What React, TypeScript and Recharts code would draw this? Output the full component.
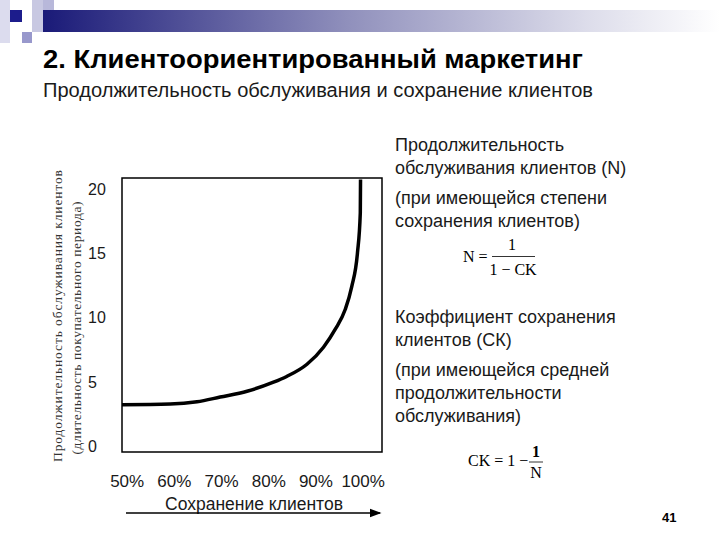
import React from "react";
import { LineChart, Line, XAxis, YAxis, ReferenceArea } from "recharts";

// retention rate (%) and matching service duration (periods)
const retention = [48.9, 59.1, 64.8, 69.7, 75.4, 81.0, 83.8, 88.1, 91.6, 94.1, 96.2, 97.6, 98.8, 99.4, 99.45];
const duration = [3.2, 3.25, 3.43, 3.8, 4.25, 4.95, 5.4, 6.35, 7.67, 9.07, 10.6, 12.4, 15.0, 18.1, 20.7];
const xTicks = [50, 60, 70, 80, 90, 100];
const yTicks = [0, 5, 10, 15, 20];
const X_MIN = 48.9;
const X_MAX = 104.0;
const Y_MIN = -0.47;
const Y_MAX = 20.82;

const rightLines1 = ["Продолжительность", "обслуживания клиентов (N)"];
const rightLines2 = ["(при имеющейся степени", "сохранения клиентов)"];
const rightLines3 = ["Коэффициент сохранения", "клиентов (СК)"];
const rightLines4 = ["(при имеющейся средней", "продолжительности", "обслуживания)"];

const sans = "'Liberation Sans', Arial, sans-serif";
const serif = "'Liberation Serif', 'Times New Roman', serif";

const data = retention.map((x, i) => ({ x, y: duration[i] }));

function XTick(props: any) {
  const { x, y, payload } = props;
  return (
    <text x={x} y={y + 27} textAnchor="middle" fontFamily={sans} fontSize={17} fill="#1a1a1a">
      {payload.value}%
    </text>
  );
}

function YTick(props: any) {
  const { y, payload } = props;
  return (
    <text x={88} y={y + 6} textAnchor="start" fontFamily={sans} fontSize={16} fill="#1a1a1a">
      {payload.value}
    </text>
  );
}

function Lines({ lines, x, y }: { lines: string[]; x: number; y: number }) {
  return (
    <>
      {lines.map((t, i) => (
        <text key={i} x={x} y={y + i * 23} fontFamily={sans} fontSize={18} fill="#1a1a1a">
          {t}
        </text>
      ))}
    </>
  );
}

export default function App() {
  return (
    <div style={{ position: "absolute", left: 0, top: 0, width: 720, height: 540, background: "#fff" }}>
      <svg width={720} height={540} style={{ position: "absolute", left: 0, top: 0 }}>
        <defs>
          <linearGradient id="bar" x1="0" x2="1" y1="0" y2="0">
            <stop offset="0" stopColor="#1a1a78" />
            <stop offset="0.45" stopColor="#9090bc" />
            <stop offset="0.8" stopColor="#dcdcea" />
            <stop offset="1" stopColor="#ffffff" />
          </linearGradient>
          <marker id="arrow" markerWidth="8" markerHeight="8" refX="7" refY="4" orient="auto">
            <path d="M0,1 L8,4 L0,7 z" fill="#000" />
          </marker>
        </defs>
        <rect x={0} y={0} width={10} height={43} fill="#dcdcee" />
        <rect x={32} y={0} width={11} height={32} fill="#c8c8e2" />
        <rect x={43} y={0} width={11} height={10} fill="#b8b8da" />
        <rect x={10} y={10} width={12} height={12} fill="#1c1c8c" />
        <rect x={22} y={32} width={10} height={11} fill="#9898cc" />
        <rect x={43} y={10} width={677} height={22} fill="url(#bar)" />

        <text x={43} y={68} fontFamily={sans} fontSize={26.5} fontWeight="bold" fill="#000"
          textLength={540} lengthAdjust="spacingAndGlyphs">
          2. Клиентоориентированный маркетинг
        </text>
        <text x={43} y={97} fontFamily={sans} fontSize={20} fill="#1a1a1a"
          textLength={550} lengthAdjust="spacingAndGlyphs">
          Продолжительность обслуживания и сохранение клиентов
        </text>

        <g transform="translate(62,316) rotate(-90)">
          <text x={0} y={0} textAnchor="middle" fontFamily={serif} fontSize={13.5} fill="#333"
            textLength={292} lengthAdjust="spacing">
            Продолжительность обслуживания клиентов
          </text>
        </g>
        <g transform="translate(81,328) rotate(-90)">
          <text x={0} y={0} textAnchor="middle" fontFamily={serif} fontSize={13.5} fill="#333"
            textLength={253} lengthAdjust="spacing">
            (длительность покупательного периода)
          </text>
        </g>

        <text x={254} y={510} textAnchor="middle" fontFamily={sans} fontSize={17.5} fill="#1a1a1a">
          Сохранение клиентов
        </text>
        <line x1={126} y1={513} x2={380} y2={513} stroke="#000" strokeWidth={1.5} markerEnd="url(#arrow)" />

        <Lines lines={rightLines1} x={395} y={151} />
        <Lines lines={rightLines2} x={395} y={204} />
        <Lines lines={rightLines3} x={395} y={323} />
        <Lines lines={rightLines4} x={395} y={376} />

        <text x={463} y={262} fontFamily={serif} fontSize={16} fill="#000">N =</text>
        <text x={512} y={250} textAnchor="middle" fontFamily={serif} fontSize={16} fill="#000">1</text>
        <line x1={492} y1={256.5} x2={535} y2={256.5} stroke="#000" strokeWidth={0.8} />
        <text x={513} y={275} textAnchor="middle" fontFamily={serif} fontSize={16} fill="#000">1 − CK</text>

        <text x={468} y={466} fontFamily={serif} fontSize={16} fill="#000">CK = 1 −</text>
        <text x={536} y={457} textAnchor="middle" fontFamily={serif} fontSize={16} fontWeight="bold" fill="#000">1</text>
        <line x1={529} y1={462} x2={543} y2={462} stroke="#000" strokeWidth={0.8} />
        <text x={536} y={478} textAnchor="middle" fontFamily={serif} fontSize={16} fill="#000">N</text>

        <text x={662} y={522} fontFamily={sans} fontSize={13} fontWeight="bold" fill="#000">41</text>
      </svg>

      <div style={{ position: "absolute", left: 0, top: 0 }}>
        <LineChart width={720} height={540} data={data} margin={{ top: 178, right: 338, bottom: 58, left: 82 }}>
          <XAxis
            type="number"
            dataKey="x"
            domain={[X_MIN, X_MAX]}
            ticks={xTicks}
            allowDataOverflow
            axisLine={false}
            tickLine={false}
            height={30}
            tick={XTick}
          />
          <YAxis
            type="number"
            domain={[Y_MIN, Y_MAX]}
            ticks={yTicks}
            allowDataOverflow
            axisLine={false}
            tickLine={false}
            width={40}
            tick={YTick}
          />
          <ReferenceArea
            x1={X_MIN}
            x2={X_MAX}
            y1={Y_MIN}
            y2={Y_MAX}
            fill="none"
            fillOpacity={0}
            stroke="#000"
            strokeWidth={1.5}
            strokeOpacity={1}
          />
          <Line
            type="monotoneX"
            dataKey="y"
            stroke="#000"
            strokeWidth={3.5}
            dot={false}
            isAnimationActive={false}
          />
        </LineChart>
      </div>
    </div>
  );
}
